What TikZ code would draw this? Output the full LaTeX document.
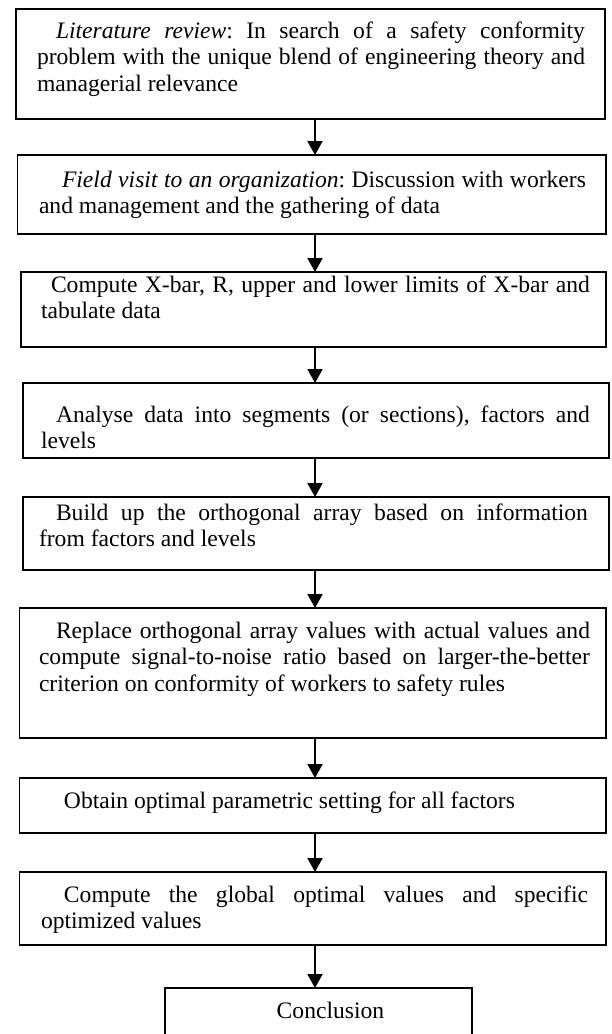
\documentclass[tikz,border=0pt]{standalone}
\usepackage{fontspec}
\setmainfont{Liberation Serif}
\usetikzlibrary{arrows.meta}
\hyphenpenalty=10000
\exhyphenpenalty=10000
\tolerance=10000
\frenchspacing
\begin{document}
\begin{tikzpicture}[x=1pt,y=-1pt,
  box/.style={draw=black, line width=1.8pt, inner sep=0pt, outer sep=0pt},
  txt/.style={anchor=base west, inner sep=0pt, outer sep=0pt, align=justify,
     font={\fontsize{23.6pt}{26.5pt}\selectfont\frenchspacing}},
  ctxt/.style={anchor=base, inner sep=0pt, outer sep=0pt,
     font={\fontsize{23.6pt}{26.5pt}\selectfont}},
  arr/.style={line width=2pt, -{Triangle[width=15pt,length=14pt]}}]
\useasboundingbox (0,0) rectangle (611,1034);
\fill[white] (0,0) rectangle (611,1034);
\coordinate (ax) at (315,0);
% boxes
\node[box, minimum width=589pt, minimum height=110pt] (b1) at (310.5,64) {};
\node[box, minimum width=588.5pt, minimum height=79pt] (b2) at (311.75,194.5) {};
\node[box, minimum width=585pt, minimum height=75pt] (b3) at (313.5,309.5) {};
\node[box, minimum width=586pt, minimum height=75pt] (b4) at (316,420.5) {};
\node[box, minimum width=586pt, minimum height=73pt] (b5) at (316,533.5) {};
\node[box, minimum width=586.5pt, minimum height=130pt] (b6) at (312.75,673) {};
\node[box, minimum width=586.5pt, minimum height=55pt] (b7) at (312.75,805.5) {};
\node[box, minimum width=586.5pt, minimum height=73pt] (b8) at (312.75,908.5) {};
\node[box, minimum width=307pt, minimum height=56pt] (b9) at (318.5,1016) {};
% texts
\node[txt, text width=548pt] (t1) at (37,38) {\hspace*{19pt}\textit{Literature review}: In search of a safety conformity\linebreak problem with the unique blend of engineering theory and\linebreak managerial relevance};
\node[txt, text width=547pt] (t2) at (39,187) {\hspace*{23pt}\textit{Field visit to an organization}: Discussion with workers\linebreak and management and the gathering of data};
\node[txt, text width=549pt] (t3) at (41,292) {\hspace*{10pt}Compute X-bar, R, upper and lower limits of X-bar and\linebreak tabulate data};
\node[txt, text width=549pt] (t4) at (41,422) {\hspace*{15pt}Analyse data into segments (or sections), factors and\linebreak levels};
\node[txt, text width=549pt] (t5) at (39,520) {\hspace*{17pt}Build up the orthogonal array based on information\linebreak from factors and levels};
\node[txt, text width=551pt] (t6) at (39,638) {\hspace*{17pt}Replace orthogonal array values with actual values and\linebreak compute signal-to-noise ratio based on larger-the-better\linebreak criterion on conformity of workers to safety rules};
\node[txt, text width=549pt] (t7) at (41,808) {\hspace*{23pt}Obtain optimal parametric setting for all factors};
\node[txt, text width=547pt] (t8) at (41,902) {\hspace*{23pt}Compute the global optimal values and specific\linebreak optimized values};
\node[ctxt] (t9) at (330.5,1018) {Conclusion};
% arrows
\draw[arr] (b1.south -| ax) -- (b2.north -| ax);
\draw[arr] (b2.south -| ax) -- (b3.north -| ax);
\draw[arr] (b3.south -| ax) -- (b4.north -| ax);
\draw[arr] (b4.south -| ax) -- (b5.north -| ax);
\draw[arr] (b5.south -| ax) -- (b6.north -| ax);
\draw[arr] (b6.south -| ax) -- (b7.north -| ax);
\draw[arr] (b7.south -| ax) -- (b8.north -| ax);
\draw[arr] (b8.south -| ax) -- (b9.north -| ax);
\end{tikzpicture}
\end{document}
